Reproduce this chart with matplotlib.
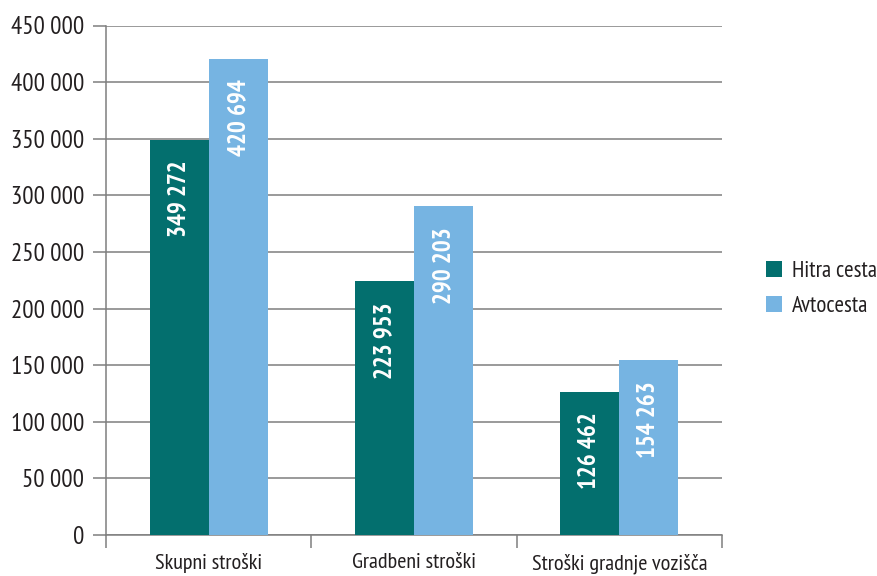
import matplotlib
matplotlib.use("Agg")
import matplotlib.pyplot as plt
import numpy as np
from matplotlib.ticker import FuncFormatter, FixedLocator

plt.rcParams['font.family'] = ['PT Sans Narrow', 'DejaVu Sans']

categories = ["Skupni stroški", "Gradbeni stroški", "Stroški gradnje vozišča"]
series_names = ["Hitra cesta", "Avtocesta"]
hitra_cesta = [349272, 223953, 126462]
avtocesta = [420694, 290203, 154263]
colors = ["#036f6e", "#76b4e2"]

fig = plt.figure(figsize=(8.78, 5.76), dpi=100)
ax = fig.add_axes([106 / 878, 41 / 576, 616 / 878, 509.5 / 576])

x = np.arange(len(categories))
w = 0.288
grid_c = "#7f7f7f"
text_c = "#231f20"


def spaced(v):
    return f"{int(v):,}".replace(",", " ")


for vals, off, col, name in [(hitra_cesta, -w / 2, colors[0], series_names[0]),
                             (avtocesta, w / 2, colors[1], series_names[1])]:
    bars = ax.bar(x + off, vals, width=w, color=col, label=name, zorder=3)
    for b, v in zip(bars, vals):
        ax.annotate(spaced(v), (b.get_x() + b.get_width() / 2, v),
                    xytext=(0, -15), textcoords="offset points", rotation=90,
                    ha="center", va="top", color="white", fontsize=18,
                    fontweight="bold", zorder=4)

ax.set_xlim(-0.5, len(categories) - 0.5)
ax.set_ylim(0, 450000)
ax.set_yticks(np.arange(0, 450001, 50000))
ax.yaxis.set_major_formatter(FuncFormatter(lambda v, p: spaced(v)))
ax.yaxis.grid(True, color=grid_c, linewidth=1.1, zorder=0)
ax.set_axisbelow(True)

ax.set_xticks(x)
ax.set_xticklabels(categories)
ax.xaxis.set_minor_locator(FixedLocator(np.arange(-0.5, len(categories), 1.0)))
ax.tick_params(axis="x", which="major", length=0, pad=13, labelsize=16, colors=text_c)
ax.tick_params(axis="x", which="minor", length=9, width=1.1, color=grid_c)
ax.tick_params(axis="y", length=9.5, width=1.1, color=grid_c, labelsize=18, pad=6,
               labelcolor=text_c)

for s in ["top", "right"]:
    ax.spines[s].set_visible(False)
ax.spines["left"].set_color(grid_c)
ax.spines["left"].set_linewidth(1.1)
ax.spines["bottom"].set_color(grid_c)
ax.spines["bottom"].set_linewidth(1.1)

leg = fig.legend(loc="center left", bbox_to_anchor=(766 / 878, 1 - 289 / 576),
                 frameon=False, fontsize=16.5, handlelength=0.68, handleheight=0.68,
                 labelspacing=0.6, handletextpad=0.45, borderpad=0,
                 borderaxespad=0)
for t in leg.get_texts():
    t.set_color(text_c)

fig.savefig("out.png", dpi=100)
